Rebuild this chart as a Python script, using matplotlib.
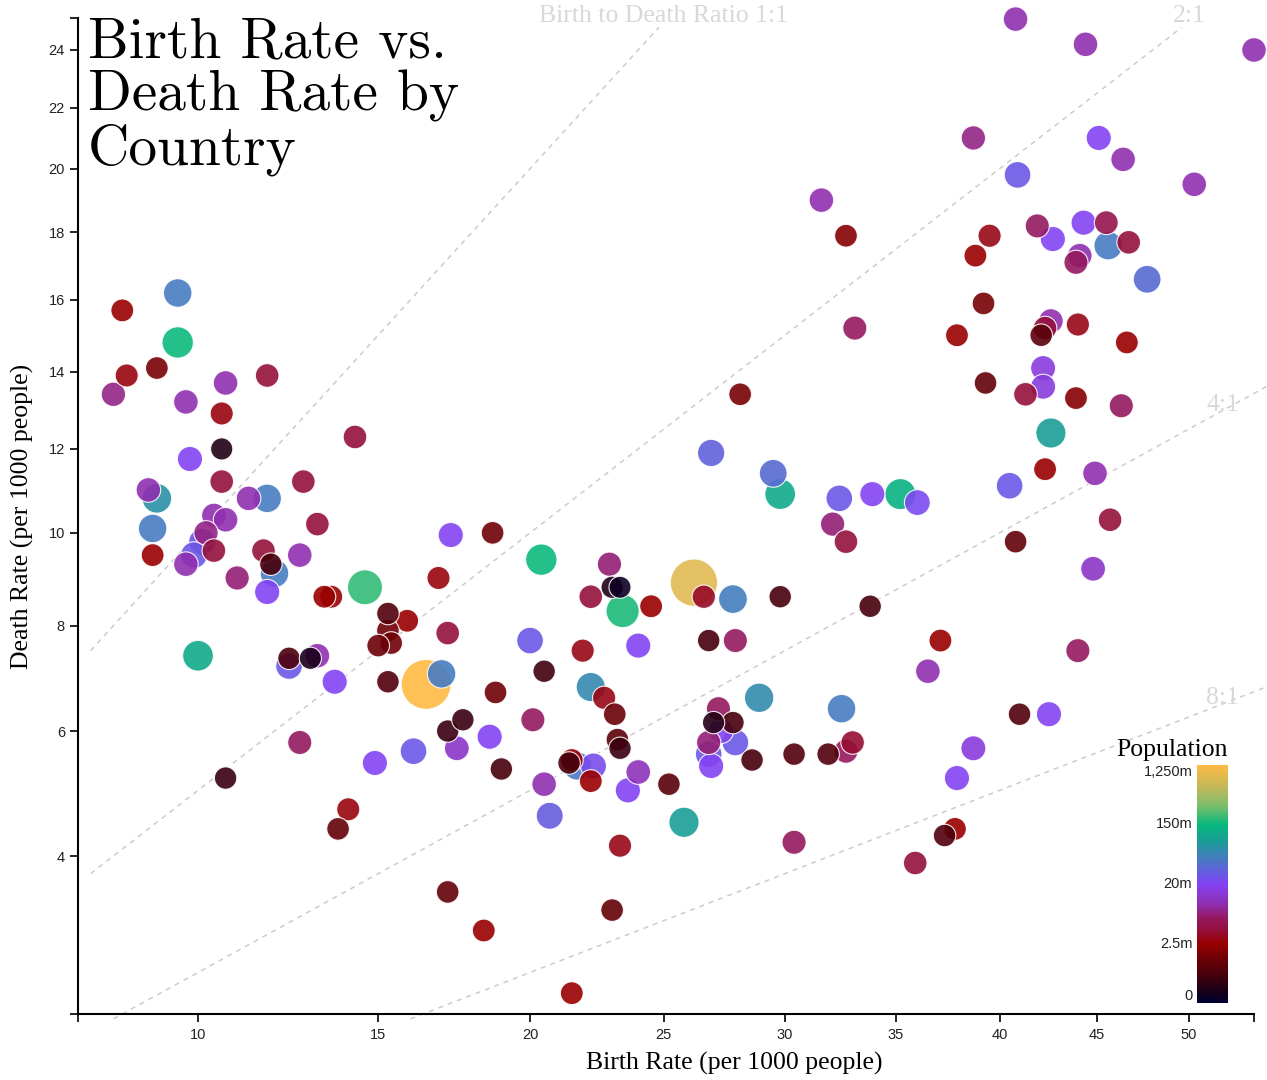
import matplotlib
matplotlib.use("Agg")
import matplotlib.pyplot as plt
import numpy as np
from matplotlib.colors import LinearSegmentedColormap
from matplotlib.ticker import NullFormatter

# values (births / deaths per 1000, population in millions)
birth_rate = [
    8.2, 9.5, 9.5, 31.6, 32.7, 33.1, 40.8, 44.4, 53.7, 38.7,
    45.1, 46.4, 40.9, 50.3, 41.9, 44.3, 45.5, 39.5, 42.7, 45.6,
    46.7, 38.8, 44.1, 43.9, 47.7, 39.2, 42.6, 42.3, 42.1, 44.0,
    37.9, 46.6, 42.2, 42.2, 39.3, 41.3, 43.9, 46.3, 42.6, 42.3,
    44.9, 40.5, 33.9, 35.2, 36.0, 45.7, 40.8, 44.8, 33.8, 37.1,
    44.0, 36.5, 41.0, 42.5, 38.7, 37.9, 37.8, 37.3, 35.9, 18.8,
    22.2, 22.7, 23.1, 20.1, 18.6, 23.2, 23.3, 19.0, 21.5, 21.4,
    22.3, 21.7, 22.2, 20.5, 24.0, 23.6, 20.7, 25.2, 25.8, 23.3,
    30.4, 23.0, 18.4, 21.5, 27.2, 27.0, 27.8, 27.3, 26.8, 27.9,
    26.8, 26.9, 28.6, 28.9, 32.5, 30.4, 31.9, 32.7, 33.0, 28.1,
    26.9, 29.5, 29.8, 32.4, 32.1, 32.7, 18.7, 20.4, 22.9, 23.0,
    23.3, 22.2, 23.4, 24.5, 26.2, 26.6, 27.8, 29.8, 20.0, 21.9,
    24.0, 26.8, 27.9, 20.5, 8.3, 9.0, 8.0, 9.7, 10.7, 11.8,
    10.6, 14.3, 10.6, 9.8, 10.6, 12.8, 9.0, 8.8, 11.3, 11.8,
    10.4, 10.7, 13.2, 8.9, 10.2, 10.1, 9.9, 10.4, 8.9, 9.7,
    11.7, 12.7, 11.9, 12.0, 11.8, 11.0, 14.6, 13.4, 13.6, 17.3,
    16.9, 15.3, 15.9, 15.3, 15.4, 15.0, 17.2, 10.0, 12.4, 12.4,
    13.2, 13.0, 13.7, 15.3, 16.5, 17.0, 10.7, 12.7, 14.9, 16.1,
    17.5, 17.2, 17.7, 14.1, 13.8, 17.2,
]
death_rate = [
    15.7, 16.2, 14.8, 19.0, 17.9, 15.2, 25.1, 24.2, 24.0, 21.0,
    21.0, 20.3, 19.8, 19.5, 18.2, 18.3, 18.3, 17.9, 17.8, 17.6,
    17.7, 17.3, 17.3, 17.1, 16.6, 15.9, 15.4, 15.2, 15.0, 15.3,
    15.0, 14.8, 14.1, 13.6, 13.7, 13.4, 13.3, 13.1, 12.4, 11.5,
    11.4, 11.1, 10.9, 10.9, 10.7, 10.3, 9.8, 9.2, 8.4, 7.7,
    7.5, 7.1, 6.3, 6.3, 5.7, 5.2, 4.4, 4.3, 3.9, 6.7,
    6.8, 6.6, 6.3, 6.2, 5.9, 5.85, 5.7, 5.35, 5.5, 5.45,
    5.4, 5.4, 5.15, 5.1, 5.3, 5.0, 4.6, 5.1, 4.5, 4.15,
    4.2, 3.26, 3.0, 2.27, 6.4, 6.15, 6.15, 6.0, 5.8, 5.8,
    5.6, 5.4, 5.5, 6.6, 6.4, 5.6, 5.6, 5.65, 5.8, 13.4,
    11.9, 11.4, 10.9, 10.8, 10.2, 9.8, 10.0, 9.4, 9.3, 8.8,
    8.8, 8.6, 8.3, 8.4, 8.9, 8.6, 8.55, 8.6, 7.7, 7.5,
    7.6, 7.7, 7.7, 7.1, 13.9, 14.1, 13.4, 13.2, 13.7, 13.9,
    12.9, 12.3, 12.0, 11.75, 11.2, 11.2, 10.8, 11.0, 10.8, 10.8,
    10.4, 10.3, 10.2, 10.1, 10.0, 9.8, 9.5, 9.6, 9.5, 9.3,
    9.6, 9.5, 9.3, 9.1, 8.7, 9.0, 8.8, 8.6, 8.6, 9.95,
    9.0, 8.25, 8.1, 7.9, 7.65, 7.6, 7.85, 7.4, 7.2, 7.35,
    7.4, 7.35, 6.9, 6.9, 6.85, 7.05, 5.2, 5.8, 5.45, 5.65,
    5.7, 6.0, 6.2, 4.7, 4.4, 3.5,
]
population_m = [
    2.5, 75, 150, 14, 2.2, 10, 14, 14, 14, 12,
    20, 14, 40, 14, 10, 20, 8, 4, 20, 75,
    6.5, 2.5, 14, 10, 60, 2.0, 14, 6.5, 1.5, 4,
    2.5, 2.5, 18, 18, 1.7, 6.5, 2.2, 10, 115, 2.5,
    14, 40, 20, 140, 28, 6.5, 1.7, 16, 1.2, 2.5,
    10, 14, 1.4, 20, 18, 20, 2.5, 1.4, 6.5, 1.9,
    90, 4, 1.8, 10, 20, 1.6, 1.0, 1.2, 2.5, 1.2,
    30, 70, 2.5, 14, 15, 20, 45, 1.5, 115, 4,
    10, 1.7, 2.5, 2.5, 10, 0.7, 1.2, 20, 11, 40,
    40, 20, 1.2, 95, 75, 1.4, 1.4, 10, 6, 2.0,
    50, 60, 130, 40, 11, 6.5, 1.9, 150, 11, 0.6,
    0.3, 6.5, 210, 2.5, 1030, 5, 80, 1.2, 40, 4,
    20, 1.2, 10, 1.1, 3.5, 2.0, 12, 14, 14, 6.5,
    3.5, 6.5, 0.6, 20, 6.5, 6.5, 100, 14, 14, 75,
    14, 14, 6.5, 75, 12, 40, 40, 6.5, 2.5, 14,
    6.5, 14, 1.2, 75, 20, 11, 280, 2.5, 3, 20,
    3.5, 1.4, 2.5, 1.9, 1.9, 1.8, 6.5, 130, 40, 1.3,
    14, 0.5, 20, 1.4, 1250, 75, 1.0, 10, 20, 40,
    16, 1.0, 1.0, 3.5, 1.7, 1.7,
]

ratios = [1, 2, 4, 8]
ratio_labels = ["Birth to Death Ratio 1:1", "2:1", "4:1", "8:1"]
x_ticks = [10, 15, 20, 25, 30, 35, 40, 45, 50]
y_ticks = [4, 6, 8, 10, 12, 14, 16, 18, 20, 22, 24]
pop_stops = [0, 2.5, 20, 150, 1250]
pop_tick_labels = ["0", "2.5m", "20m", "150m", "1,250m"]
title_lines = ["Birth Rate vs.", "Death Rate by", "Country"]

cmap_stops = [
    (0.00, "#000033"), (0.05, "#1a0018"), (0.12, "#48000c"), (0.18, "#6b0107"),
    (0.25, "#990000"), (0.307, "#95103d"), (0.357, "#951960"), (0.414, "#902fb0"),
    (0.50, "#8442f4"), (0.538, "#6b57e5"), (0.606, "#487bc2"), (0.683, "#199e96"),
    (0.75, "#07b97d"), (0.83, "#7cbf6c"), (0.91, "#c4b85a"), (1.00, "#ffbb44"),
]

W, H = 1267, 1080
PX = 0.72  # points per pixel at dpi 100
SERIF = "Liberation Serif"

plt.rcParams["font.family"] = ["Liberation Sans", "DejaVu Sans"]
plt.rcParams["lines.scale_dashes"] = False


def fwd(v):
    return np.sqrt(np.clip(v, 0, None))


def inv(v):
    return np.square(v)


def pop_norm(p):
    return np.interp(p, pop_stops, [0, 0.25, 0.5, 0.75, 1.0])


cmap = LinearSegmentedColormap.from_list("pop", cmap_stops)

fig = plt.figure(figsize=(W / 100, H / 100), dpi=100)
ax = fig.add_axes([78 / W, 1 - 1014 / H, (1254 - 78) / W, (1014 - 18) / H])
ax.set_xscale("function", functions=(fwd, inv))
ax.set_yscale("function", functions=(fwd, inv))
ax.set_xlim(7.23, 53.7)
ax.set_ylim(2.05, 25.14)

# birth-to-death ratio guides
for r, label in zip(ratios, ratio_labels):
    x0 = max(7.5, 2.0 * r)
    x1 = min(24.8 * r, 60)
    ax.plot([x0, x1], [x0 / r, x1 / r], color="#cccccc", lw=1.1,
            dashes=(3.6, 3.6), clip_on=False, zorder=1)
    lx = min(25 * r, 51.9)
    ax.text(lx, lx / r, label, ha="center", va="baseline", fontsize=18.5,
            family=SERIF, color="#d8d8d8", clip_on=False, zorder=1)

b = np.array(birth_rate)
d = np.array(death_rate)
p = np.array(population_m)
order = np.argsort(-p, kind="stable")
radius_px = 10.8 + 0.4 * np.sqrt(p)
sizes = (2 * radius_px * PX) ** 2
colors = cmap(pop_norm(p))
ax.scatter(b[order], d[order], s=sizes[order], c=colors[order], alpha=0.9,
           edgecolors="white", linewidths=0.8, zorder=3, clip_on=False)

for side in ["top", "right"]:
    ax.spines[side].set_visible(False)
for side in ["left", "bottom"]:
    ax.spines[side].set_linewidth(1.5)

ax.set_xticks(x_ticks)
ax.set_xticklabels([str(t) for t in x_ticks])
ax.set_yticks(y_ticks)
ax.set_yticklabels([str(t) for t in y_ticks])
ax.set_xticks([7.23, 53.7], minor=True)
ax.set_yticks([2.05, 25.14], minor=True)
ax.xaxis.set_minor_formatter(NullFormatter())
ax.yaxis.set_minor_formatter(NullFormatter())
ax.tick_params(which="both", direction="out", length=5.8, width=1.2,
               labelsize=10.5, labelcolor="#222222")
ax.tick_params(axis="x", pad=4.3)
ax.tick_params(axis="y", pad=3.6)

fig.text(734 / W, 1 - 1063 / H, "Birth Rate (per 1000 people)", ha="center",
         va="center", family=SERIF, fontsize=18.5)
fig.text(22 / W, 1 - 516 / H, "Death Rate (per 1000 people)", ha="center",
         va="center", rotation=90, family=SERIF, fontsize=18.5)

for i, line in enumerate(title_lines):
    fig.text(88 / W, 1 - (57 + 54 * i) / H, line, ha="left", va="baseline",
             family="cmr10", fontsize=41.3)

# population colour legend
cax = fig.add_axes([1197 / W, 1 - 1003 / H, 31 / W, 238 / H])
grad = np.linspace(0, 1, 256).reshape(-1, 1)
cax.imshow(grad, cmap=cmap, aspect="auto", origin="lower", extent=[0, 1, 0, 1])
cax.set_axis_off()
for t, lab in zip(pop_norm(pop_stops), pop_tick_labels):
    va = "bottom" if t == 0 else ("top" if t == 1 else "center")
    cax.text(-0.15, t, lab, transform=cax.transAxes, ha="right", va=va,
             fontsize=10.5, color="#222222")
fig.text(1172 / W, 1 - 756 / H, "Population", ha="center", va="baseline",
         family=SERIF, fontsize=18.5)

fig.savefig("out.png", dpi=100)
